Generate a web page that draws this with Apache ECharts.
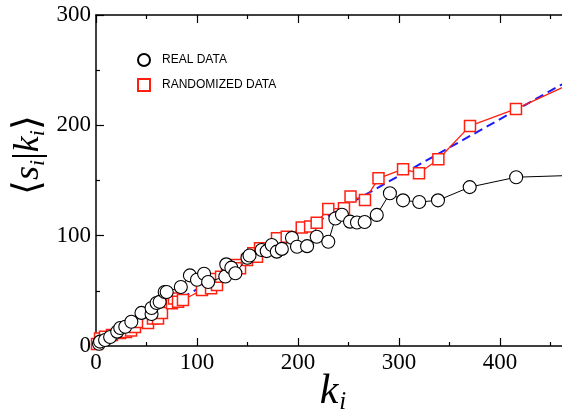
<!DOCTYPE html>
<html>
<head>
<meta charset="utf-8">
<script src="https://cdn.jsdelivr.net/npm/echarts@6/dist/echarts.min.js"></script>
<style>html,body{margin:0;padding:0;background:#fff}#c{width:562px;height:415px}</style>
</head>
<body>
<div id="c"></div>
<script>
// Data (k_i, <s_i|k_i>)
var realData = [[3,2],[4,4],[9,5.4],[14,8.2],[21,13],[24,16.3],[29,17.5],[35,22],[45,30],[55,29],[55,34.5],[60,39],[63,40],[68,49],[70,49],[84,53.5],[93,64],[100,60],[107,65.5],[111,58],[128,63],[129,74],[134,71],[138,66],[150,80],[152,82],[164,87],[169,86],[174,91.5],[179,85.5],[184,88],[194,98],[199,90],[209,90.5],[218.5,99],[230,94.5],[237,115.6],[243.5,119],[251.5,112.7],[258.4,112],[266,112.4],[278,118.8],[291,138.4],[304,132],[320,130.5],[338.6,132],[370,144],[416,153],[485,155]];
var randomData = [[1,1.8],[4,6.8],[8.9,8.4],[15.8,10],[23.8,11.8],[29.7,12.7],[34.7,14],[38.6,17.2],[43.6,21.8],[51.5,20.9],[56.4,24.9],[61.4,24.9],[65.3,29.9],[75.2,38.7],[77.2,43.1],[81.2,40.2],[86.1,41.7],[104.9,50.8],[113.9,52.3],[115.8,60.7],[119.8,55.3],[123.8,62.8],[129.7,67.4],[139.3,73.4],[142.6,70.4],[149.5,78],[155.7,84],[159.4,81],[162.4,88.6],[179.2,97.6],[188.8,99.1],[203.7,107.4],[212,108.2],[218.5,111.8],[230,124.2],[245.5,124.8],[252,135.4],[266.3,132.4],[279.7,152],[304,160.3],[319.8,156.6],[339,169.3],[370.3,199.5],[415.8,214.9],[480,242]];
var fitLine = [[0,0],[500,257]];
var xTicks = [0,100,200,300,400,500];
var yTicks = [0,100,200,300];
var legendNames = ['REAL DATA','RANDOMIZED DATA'];

var chart = echarts.init(document.getElementById('c'), null, {renderer:'canvas'});
var serif = 'Liberation Serif';
var axisLineStyle = {color:'#000', width:1.5};
function xAxisDef(pos, showLabel){
  return {type:'value', position:pos, min:xTicks[0], max:xTicks[xTicks.length-1], interval:100,
    axisLine:{show:true, onZero:false, lineStyle:axisLineStyle},
    axisTick:{show:true, inside:true, length:8, lineStyle:{color:'#000', width:1.2}},
    minorTick:{show:true, splitNumber:2, length:4, lineStyle:{color:'#000', width:1.2}},
    splitLine:{show:false},
    axisLabel:{show:showLabel, fontFamily:serif, fontSize:23, color:'#000', margin:5, showMaxLabel:false}
  };
}
function yAxisDef(pos, showLabel){
  return {type:'value', position:pos, min:yTicks[0], max:yTicks[yTicks.length-1], interval:100,
    axisLine:{show:true, onZero:false, lineStyle:axisLineStyle},
    axisTick:{show:true, inside:true, length:8, lineStyle:{color:'#000', width:1.2}},
    minorTick:{show:true, splitNumber:2, length:4, lineStyle:{color:'#000', width:1.2}},
    splitLine:{show:false},
    axisLabel:{show:showLabel, fontFamily:serif, fontSize:23, color:'#000', margin:5}
  };
}
var option = {
  animation:false,
  backgroundColor:'#fff',
  grid:{left:96, width:505, top:15, bottom:69, containLabel:false, outerBoundsMode:'none'},
  xAxis:[xAxisDef('bottom', true), xAxisDef('top', false)],
  yAxis:[yAxisDef('left', true), yAxisDef('right', false)],
  legend:{
    orient:'vertical', left:137, top:53, padding:0, itemGap:11, itemWidth:12, itemHeight:12,
    textStyle:{fontFamily:'Liberation Sans', fontSize:12, color:'#000', padding:[0,0,0,7]},
    data:[
      {name:legendNames[0], icon:'circle', itemStyle:{color:'#fff', borderColor:'#000', borderWidth:2}},
      {name:legendNames[1], icon:'rect', itemStyle:{color:'#fff', borderColor:'#ff2010', borderWidth:2}}
    ]
  },
  series:[
    {name:'fit', type:'line', data:fitLine, showSymbol:false, symbol:'none', silent:true,
     lineStyle:{color:'#1a1aff', width:2, type:[9,5]}, z:1},
    {name:legendNames[1], type:'line', data:randomData, symbol:'rect', symbolSize:11,
     itemStyle:{color:'#fff', borderColor:'#ff2010', borderWidth:1.5},
     lineStyle:{color:'#ff2010', width:1.3}, z:2},
    {name:legendNames[0], type:'line', data:realData, symbol:'circle', symbolSize:13,
     itemStyle:{color:'#fff', borderColor:'#000', borderWidth:1.1},
     lineStyle:{color:'#000', width:1}, z:3}
  ],
  graphic:[
    {type:'text', x:333, y:392, style:{
      text:'{k|k}{i|i}', align:'center', verticalAlign:'middle',
      rich:{k:{fontFamily:serif, fontStyle:'italic', fontSize:42, lineHeight:46},
            i:{fontFamily:serif, fontStyle:'italic', fontSize:25, lineHeight:22, verticalAlign:'bottom', padding:[0,0,0,1]}}
    }},
    {type:'text', x:29, y:155, rotation:Math.PI/2, style:{
      text:'{b|\u27E8}{v|s}{i|i}{b||}{v|k}{i|i}{b|\u27E9}', align:'center', verticalAlign:'middle',
      rich:{b:{fontFamily:serif, fontSize:38, lineHeight:40},
            v:{fontFamily:serif, fontStyle:'italic', fontSize:36, lineHeight:40},
            i:{fontFamily:serif, fontStyle:'italic', fontSize:22, lineHeight:20, verticalAlign:'bottom'}}
    }}
  ]
};
chart.setOption(option);
</script>
</body>
</html>
